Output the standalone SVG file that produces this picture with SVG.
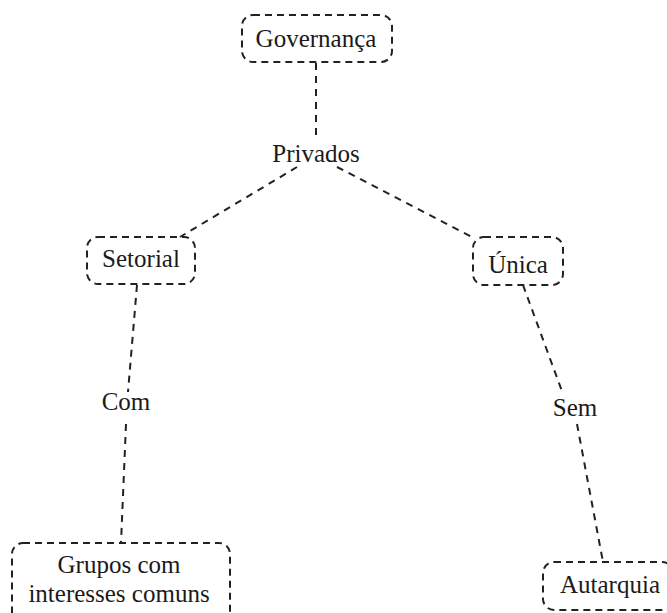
<svg xmlns="http://www.w3.org/2000/svg" width="667" height="613" viewBox="0 0 667 613">
  <style>
    .box { fill: none; stroke: #222; stroke-width: 2; stroke-dasharray: 7 5; }
    .edge { fill: none; stroke: #222; stroke-width: 2; stroke-dasharray: 7 6; }
    text { font-family: "Liberation Serif", "Times New Roman", serif; font-size: 25px; fill: #1a1a1a; text-anchor: middle; }
  </style>
  <rect width="667" height="613" fill="#ffffff"/>

  <g id="connectors">
    <line class="edge" x1="316" y1="63" x2="316" y2="140"/>
    <line class="edge" x1="297" y1="167" x2="180" y2="237"/>
    <line class="edge" x1="337" y1="167" x2="472" y2="237"/>
    <line class="edge" x1="137" y1="285" x2="128" y2="392"/>
    <line class="edge" x1="126" y1="424" x2="121" y2="543"/>
    <line class="edge" x1="523" y1="285" x2="563" y2="394"/>
    <line class="edge" x1="577" y1="424" x2="603" y2="562"/>
  </g>

  <g id="node-governanca">
    <rect class="box" x="242" y="15" width="150" height="47" rx="11"/>
    <text x="316" y="47">Governança</text>
  </g>

  <g id="label-privados">
    <text x="316" y="162">Privados</text>
  </g>

  <g id="node-setorial">
    <rect class="box" x="87" y="237" width="108" height="47" rx="11"/>
    <text x="141" y="267">Setorial</text>
  </g>

  <g id="node-unica">
    <rect class="box" x="473" y="237" width="90" height="48" rx="11"/>
    <text x="518" y="273">Única</text>
  </g>

  <g id="label-com">
    <text x="126" y="410">Com</text>
  </g>

  <g id="label-sem">
    <text x="575" y="416">Sem</text>
  </g>

  <g id="node-grupos">
    <rect class="box" x="12" y="543" width="218" height="82" rx="11"/>
    <text x="119" y="573">Grupos com</text>
    <text x="119" y="602">interesses comuns</text>
  </g>

  <g id="node-autarquia">
    <rect class="box" x="543" y="562" width="130" height="48" rx="11"/>
    <text x="610" y="593">Autarquia</text>
  </g>
</svg>
